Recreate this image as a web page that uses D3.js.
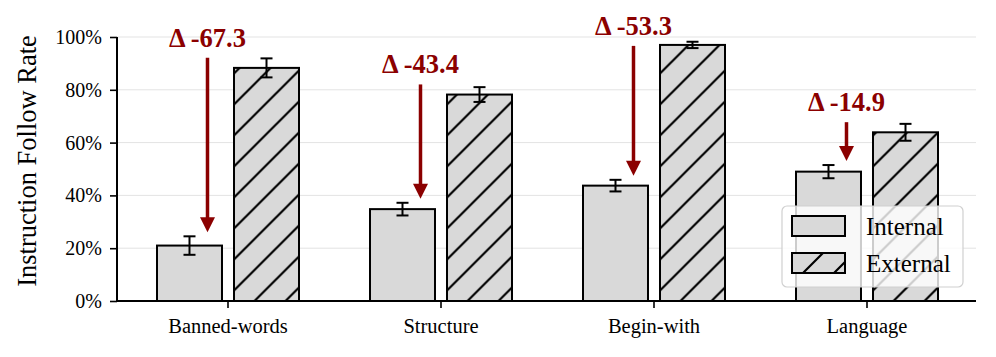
<!DOCTYPE html>
<html>
<head>
<meta charset="utf-8">
<script src="https://cdn.jsdelivr.net/npm/d3@7"></script>
<style>
  html, body { margin: 0; padding: 0; background: #fff; }
  svg { display: block; }
</style>
</head>
<body>
<div id="chart"></div>
<script>
const categories = ["Banned-words", "Structure", "Begin-with", "Language"];
const seriesNames = ["Internal", "External"];
const internalVals = [21.0, 34.8, 43.7, 49.0];
const internalErr = [3.5, 2.4, 2.2, 2.5];
const externalVals = [88.3, 78.2, 97.0, 63.9];
const externalErr = [3.6, 2.8, 1.2, 3.2];
const deltaLabels = ["Δ -67.3", "Δ -43.4", "Δ -53.3", "Δ -14.9"];
const yTicks = [0, 20, 40, 60, 80, 100];
const yLabel = "Instruction Follow Rate";

const W = 996, H = 357;
const serif = "'Liberation Serif', 'Times New Roman', serif";
const svg = d3.select("#chart").append("svg").attr("width", W).attr("height", H);

const defs = svg.append("defs");
const pat = defs.append("pattern").attr("id", "hatch").attr("patternUnits", "userSpaceOnUse")
  .attr("width", 31).attr("height", 31);
pat.append("rect").attr("width", 31).attr("height", 31).attr("fill", "#d9d9d9");
pat.append("path").attr("d", "M0,31 L31,0 M-4,4 L4,-4 M27,35 L35,27")
  .attr("stroke", "#000").attr("stroke-width", 2.2);

const plotLeft = 117, plotRight = 976, plotTop = 37, plotBottom = 301;
const y = d3.scaleLinear().domain([0, 100]).range([plotBottom, plotTop]);
const x0 = d3.scaleBand().domain(categories).range([121.5, 973.5]).paddingInner(0).paddingOuter(0);
const x1 = d3.scaleBand().domain(seriesNames).range([0, x0.bandwidth()]).paddingInner(0.156).paddingOuter(0.461);

// grid
svg.append("g").selectAll("line").data(yTicks.filter(d => d > 0)).join("line")
  .attr("x1", plotLeft).attr("x2", plotRight)
  .attr("y1", d => y(d)).attr("y2", d => y(d))
  .attr("stroke", "#e3e3e3").attr("stroke-width", 1);

const data = categories.map((c, i) => ({
  cat: c,
  vals: [
    {s: "Internal", v: internalVals[i], e: internalErr[i]},
    {s: "External", v: externalVals[i], e: externalErr[i]}
  ]
}));

const groups = svg.append("g").selectAll("g").data(data).join("g")
  .attr("transform", d => `translate(${x0(d.cat)},0)`);

groups.selectAll("rect").data(d => d.vals).join("rect")
  .attr("x", d => x1(d.s)).attr("width", x1.bandwidth())
  .attr("y", d => y(d.v)).attr("height", d => y(0) - y(d.v))
  .attr("fill", d => d.s === "Internal" ? "#d9d9d9" : "url(#hatch)")
  .attr("stroke", "#000").attr("stroke-width", 2);

// error bars
const eb = groups.selectAll("g.eb").data(d => d.vals).join("g").attr("class", "eb");
eb.append("line")
  .attr("x1", d => x1(d.s) + x1.bandwidth() / 2).attr("x2", d => x1(d.s) + x1.bandwidth() / 2)
  .attr("y1", d => y(d.v - d.e)).attr("y2", d => y(d.v + d.e))
  .attr("stroke", "#000").attr("stroke-width", 2);
eb.selectAll("line.cap").data(d => [{d, v: d.v - d.e}, {d, v: d.v + d.e}]).join("line").attr("class", "cap")
  .attr("x1", o => x1(o.d.s) + x1.bandwidth() / 2 - 6).attr("x2", o => x1(o.d.s) + x1.bandwidth() / 2 + 6)
  .attr("y1", o => y(o.v)).attr("y2", o => y(o.v))
  .attr("stroke", "#000").attr("stroke-width", 2);

// axes
const yAxis = svg.append("g").attr("transform", `translate(${plotLeft},0)`)
  .call(d3.axisLeft(y).tickValues(yTicks).tickFormat(d => d + "%").tickSize(7).tickPadding(8));
yAxis.select(".domain").attr("d", `M0,${plotTop}V${plotBottom}`).attr("stroke-width", 2);
yAxis.selectAll(".tick line").attr("stroke-width", 1.6);
yAxis.selectAll("text").attr("font-family", serif).attr("font-size", 20).attr("fill", "#000");

const xAxis = svg.append("g").attr("transform", `translate(0,${plotBottom})`)
  .call(d3.axisBottom(x0).tickSize(7).tickPadding(10));
xAxis.select(".domain").attr("d", `M${plotLeft},0H${plotRight}`).attr("stroke-width", 2);
xAxis.selectAll(".tick line").attr("stroke-width", 1.6);
xAxis.selectAll("text").attr("font-family", serif).attr("font-size", 20.5).attr("fill", "#000");

svg.append("text")
  .attr("transform", `translate(36,${(plotTop + plotBottom) / 2 - 8}) rotate(-90)`)
  .attr("text-anchor", "middle")
  .attr("font-family", serif).attr("font-size", 26.5).attr("fill", "#000")
  .text(yLabel);

// delta annotations
const red = "#8b0000";
const ann = svg.append("g").selectAll("g").data(data).join("g");
ann.each(function(d, i) {
  const g = d3.select(this);
  const ax = x0(d.cat) + x1("Internal") + x1.bandwidth() / 2 + 18;
  const base = y(Math.min(externalVals[i] + 8, 100.8));
  const start = base + 11;
  const tip = y(internalVals[i] + internalErr[i]) - 4;
  g.append("text").attr("x", ax).attr("y", base).attr("text-anchor", "middle")
    .attr("font-family", serif).attr("font-weight", "bold").attr("font-size", 26.5)
    .attr("fill", red).text(deltaLabels[i]);
  g.append("line").attr("x1", ax).attr("x2", ax).attr("y1", start).attr("y2", tip - 12)
    .attr("stroke", red).attr("stroke-width", 3.5);
  g.append("path").attr("d", `M${ax - 7.5},${tip - 15} L${ax + 7.5},${tip - 15} L${ax},${tip} Z`)
    .attr("fill", red);
});

// legend
const lg = svg.append("g").attr("transform", "translate(782,206)");
lg.append("rect").attr("width", 181).attr("height", 81).attr("rx", 5)
  .attr("fill", "#fff").attr("fill-opacity", 0.8).attr("stroke", "#d0d0d0").attr("stroke-width", 1.2);
seriesNames.forEach((s, i) => {
  const row = lg.append("g").attr("transform", `translate(10,${10 + i * 37})`);
  row.append("rect").attr("width", 53).attr("height", 20)
    .attr("fill", s === "Internal" ? "#d9d9d9" : "url(#hatch)")
    .attr("stroke", "#000").attr("stroke-width", 2);
  row.append("text").attr("x", 74).attr("y", 10).attr("dy", "0.35em")
    .attr("font-family", serif).attr("font-size", 25).attr("fill", "#000").text(s);
});
</script>
</body>
</html>
